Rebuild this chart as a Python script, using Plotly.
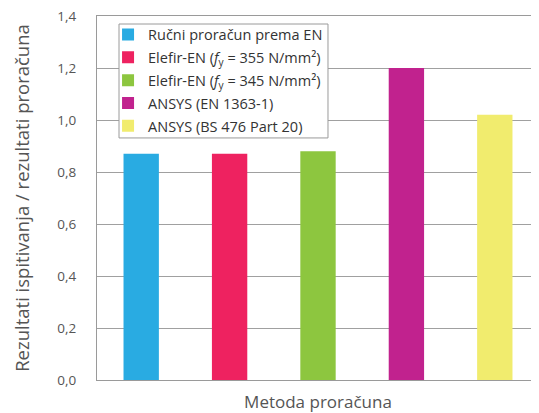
import plotly.graph_objects as go

categories = ["Ručni proračun prema EN", "Elefir-EN 355", "Elefir-EN 345", "ANSYS (EN 1363-1)", "ANSYS (BS 476 Part 20)"]
legend_names = [
    "Ručni proračun prema EN",
    "Elefir-EN (<i>f</i><sub>y</sub> = 355 N/mm²)",
    "Elefir-EN (<i>f</i><sub>y</sub> = 345 N/mm²)",
    "ANSYS (EN 1363-1)",
    "ANSYS (BS 476 Part 20)",
]
values = [0.87, 0.87, 0.88, 1.20, 1.02]
colors = ["#29abe2", "#ee2260", "#8dc63f", "#c1228e", "#f1ec6e"]
y_ticks = [0.0, 0.2, 0.4, 0.6, 0.8, 1.0, 1.2, 1.4]

fig = go.Figure()
for i, (cat, name, v, c) in enumerate(zip(categories, legend_names, values, colors)):
    fig.add_trace(go.Bar(x=[cat], y=[v], name=name, legendgroup=f"g{i}",
                         marker=dict(color=c, line=dict(width=0)), width=0.4))

font_family = "Open Sans, Noto Sans, sans-serif"
# the page body adds an 8px margin, so the figure is 8px smaller than the window
fig.update_layout(
    width=531, height=405,
    margin=dict(l=89, r=0, t=8, b=33),
    paper_bgcolor="white", plot_bgcolor="white",
    separators=", ",
    barmode="overlay",
    font=dict(family=font_family, size=12, color="#555555"),
    showlegend=True,
    legend=dict(
        x=0.025, y=0.993, xanchor="left", yanchor="top",
        bgcolor="rgba(0,0,0,0)", borderwidth=0,
        font=dict(size=14.5, color="#333333"),
        tracegroupgap=1, itemwidth=30,
    ),
    shapes=[dict(
        type="rect", xref="paper", yref="paper",
        x0=0.0498, x1=0.5226, y0=0.665, y1=0.978,
        fillcolor="white", line=dict(color="#9a9a9a", width=1), layer="above",
    )],
    xaxis=dict(
        showticklabels=False, ticks="", showgrid=False,
        showline=True, mirror=True, linecolor="#9a9a9a", linewidth=1,
        title=dict(text="Metoda proračuna", font=dict(size=17, color="#555555"), standoff=17),
        range=[-0.5, 4.5], automargin=False,
    ),
    yaxis=dict(
        range=[0, 1.4], tickvals=y_ticks, tickformat=".1f",
        showgrid=True, gridcolor="#a0a0a0", gridwidth=1,
        showline=True, linecolor="#9a9a9a", linewidth=1, mirror=False,
        ticks="", ticklabelstandoff=17, ticklabeloverflow="allow",
        tickfont=dict(size=13.5, color="#555555"),
        zeroline=False, automargin=False,
        title=dict(text="Rezultati ispitivanja / rezultati proračuna", font=dict(size=18.5, color="#555555"), standoff=22),
    ),
)

fig.write_html("out.html")
